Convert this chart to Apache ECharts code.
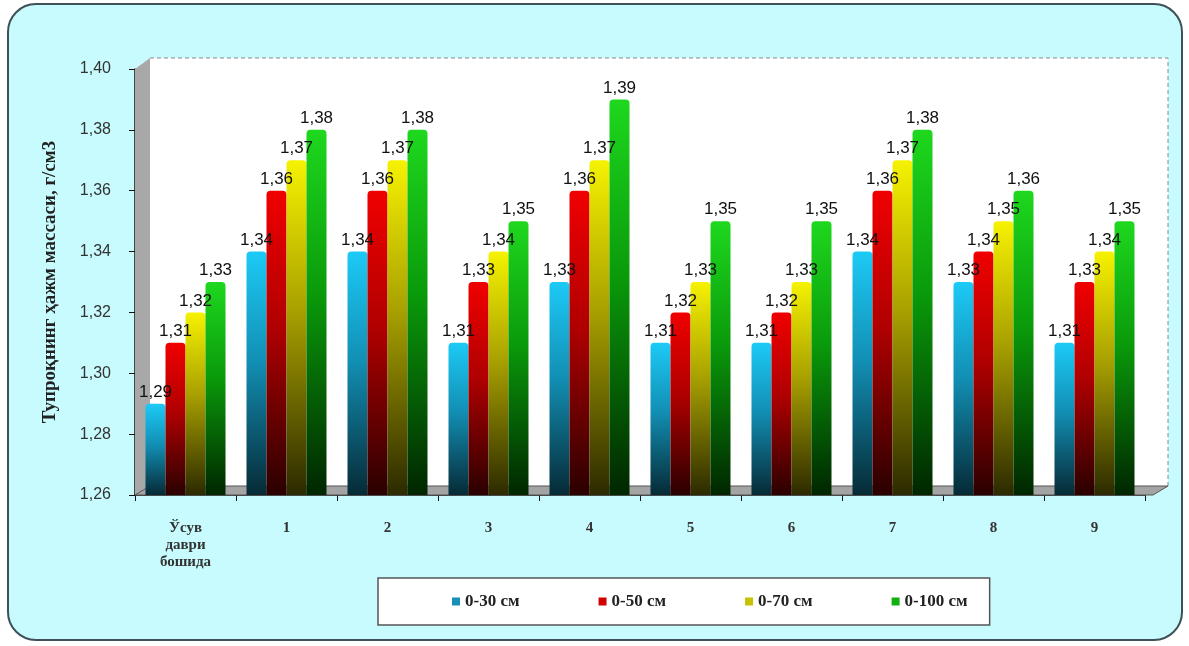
<!DOCTYPE html>
<html>
<head>
  <meta charset="utf-8">
  <title>chart</title>
</head>
<body style="margin:0;background:#fff;">
<div id="main" style="width:1189px;height:646px;"></div>
<script src="https://cdn.jsdelivr.net/npm/echarts@6/dist/echarts.min.js"></script>
<script>
  var categories = ['Ўсув\nдаври\nбошида', '1', '2', '3', '4', '5', '6', '7', '8', '9'];
  var depth30 = [1.29, 1.34, 1.34, 1.31, 1.33, 1.31, 1.31, 1.34, 1.33, 1.31];
  var depth50 = [1.31, 1.36, 1.36, 1.33, 1.36, 1.32, 1.32, 1.36, 1.34, 1.33];
  var depth70 = [1.32, 1.37, 1.37, 1.34, 1.37, 1.33, 1.33, 1.37, 1.35, 1.34];
  var depth100 = [1.33, 1.38, 1.38, 1.35, 1.39, 1.35, 1.35, 1.38, 1.36, 1.35];
  var seriesNames = ['0-30 см', '0-50 см', '0-70 см', '0-100 см'];

  var myChart = echarts.init(document.getElementById('main'));

  function grad(top, mid, bottom) {
    return new echarts.graphic.LinearGradient(0, 0, 0, 1, [
      {offset: 0, color: top},
      {offset: 0.45, color: mid},
      {offset: 1, color: bottom}
    ]);
  }

  var colors = [
    grad('#1ccaf6', '#128fb4', '#062a36'),
    grad('#f00000', '#b00000', '#2a0000'),
    grad('#f6f200', '#a8a000', '#2c2a00'),
    grad('#1ed81e', '#0a9a0a', '#002600')
  ];
  var legendColors = ['#1a8fb8', '#d00000', '#c8c000', '#10b010'];

  function fmt(v) {
    return v.toFixed(2).replace('.', ',');
  }

  function makeSeries(name, data, i) {
    return {
      name: name,
      type: 'bar',
      data: data,
      barWidth: 20,
      barGap: '0%',
      itemStyle: {color: colors[i], borderRadius: [4, 4, 0, 0]},
      label: {
        show: true,
        position: 'top',
        distance: 3,
        color: '#111',
        fontFamily: 'Arial',
        fontSize: 17,
        formatter: function (p) { return fmt(p.value); }
      }
    };
  }

  option = {
    backgroundColor: '#fff',
    animation: false,
    graphic: [
      {
        type: 'rect', z: -10, silent: true,
        shape: {x: 8, y: 4, width: 1174, height: 636, r: 28},
        style: {fill: '#c8fbfd', stroke: '#3e5058', lineWidth: 2}
      },
      {
        type: 'polygon', z: 1, silent: true,
        shape: {points: [[135, 69], [150, 58], [1168, 58], [1168, 487], [150, 487], [135, 495]]},
        style: {fill: '#ffffff'}
      },
      {
        type: 'polyline', z: 1, silent: true,
        shape: {points: [[150, 58], [1168, 58], [1168, 487]]},
        style: {stroke: '#888', lineWidth: 1, lineDash: [4, 3]}
      },
      {
        type: 'polygon', z: 1, silent: true,
        shape: {points: [[135, 69], [150, 58], [150, 487], [135, 495]]},
        style: {fill: '#a8a8a8'}
      },
      {
        type: 'polygon', z: 1, silent: true,
        shape: {points: [[135, 495], [150, 486], [1168, 486], [1153, 495]]},
        style: {fill: '#a4a4a4', stroke: '#555', lineWidth: 1}
      }
    ],
    legend: {
      data: seriesNames.map(function (n, i) {
        return {name: n, itemStyle: {color: legendColors[i]}};
      }),
      left: 378,
      top: 578,
      orient: 'horizontal',
      icon: 'rect',
      itemWidth: 8,
      itemHeight: 8,
      itemGap: 79,
      padding: [15, 22, 15, 74],
      backgroundColor: '#fff',
      borderColor: '#555',
      borderWidth: 1.5,
      textStyle: {
        fontFamily: 'Liberation Serif',
        fontWeight: 'bold',
        fontSize: 17,
        color: '#222'
      }
    },
    grid: {
      left: 135,
      right: 44,
      top: 69,
      bottom: 151
    },
    xAxis: {
      type: 'category',
      data: categories,
      axisLine: {lineStyle: {color: '#111', width: 1.5}},
      axisTick: {show: true, length: 6, lineStyle: {color: '#111'}},
      axisLabel: {
        margin: 25,
        fontFamily: 'Liberation Serif',
        fontWeight: 'bold',
        fontSize: 15,
        lineHeight: 17,
        color: '#333'
      }
    },
    yAxis: {
      type: 'value',
      min: 1.26,
      max: 1.40,
      interval: 0.02,
      name: 'Тупроқнинг ҳажм массаси, г/см3',
      nameLocation: 'middle',
      nameGap: 75,
      nameTextStyle: {
        fontFamily: 'Liberation Serif',
        fontWeight: 'bold',
        fontSize: 19,
        color: '#222'
      },
      axisLine: {show: true, lineStyle: {color: '#111', width: 1.5}},
      axisTick: {show: true, length: 6, lineStyle: {color: '#111'}},
      axisLabel: {
        margin: 24,
        fontFamily: 'Arial',
        fontSize: 16,
        color: '#333',
        formatter: function (v) { return fmt(v); }
      },
      splitLine: {
        show: true,
        lineStyle: {color: '#bdbdbd', type: 'dashed', width: 1.5}
      }
    },
    series: [
      makeSeries(seriesNames[0], depth30, 0),
      makeSeries(seriesNames[1], depth50, 1),
      makeSeries(seriesNames[2], depth70, 2),
      makeSeries(seriesNames[3], depth100, 3)
    ]
  };

  myChart.setOption(option);
</script>
</body>
</html>
